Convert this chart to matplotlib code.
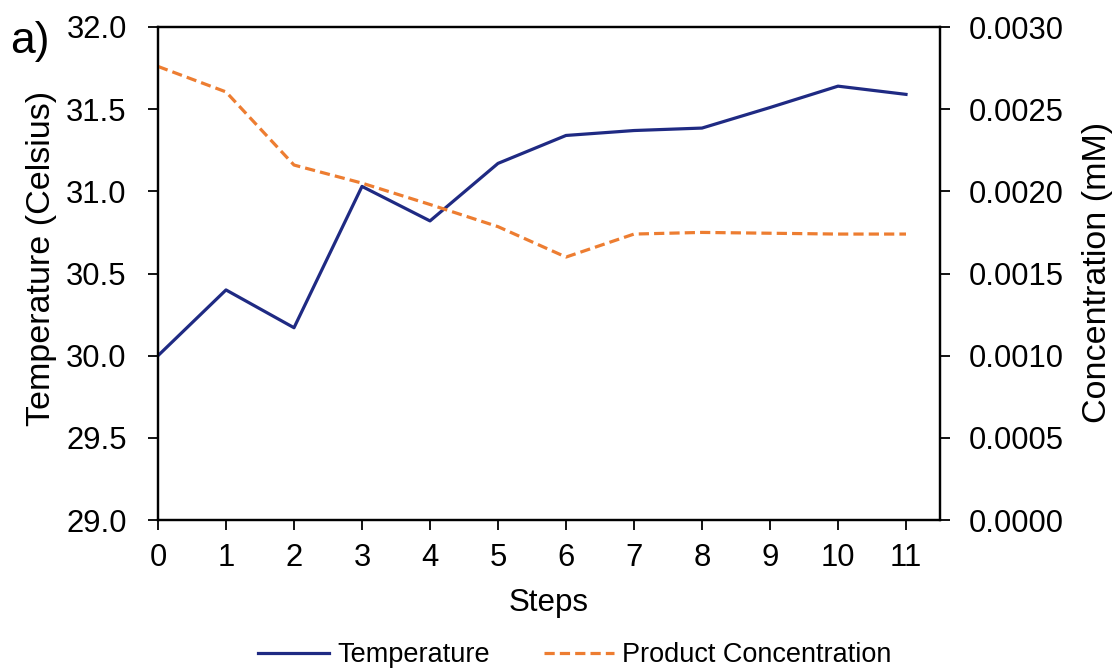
import matplotlib
matplotlib.use("Agg")
import matplotlib.pyplot as plt
from matplotlib.ticker import FormatStrFormatter

plt.rcParams['font.family'] = ['Liberation Sans', 'DejaVu Sans']

steps = [0, 1, 2, 3, 4, 5, 6, 7, 8, 9, 10, 11]
temperature = [30.00, 30.40, 30.17, 31.03, 30.82, 31.17, 31.34, 31.37, 31.385, 31.51, 31.64, 31.59]
concentration = [0.00276, 0.002605, 0.00216, 0.00205, 0.00192, 0.001785, 0.0016, 0.00174, 0.00175, 0.001745, 0.00174, 0.00174]
temp_ticks = [29.0, 29.5, 30.0, 30.5, 31.0, 31.5, 32.0]
conc_ticks = [0.0, 0.0005, 0.0010, 0.0015, 0.0020, 0.0025, 0.0030]

navy = '#1F2A83'
orange = '#ED7D31'

W, H = 1113, 668
fig = plt.figure(figsize=(W / 100, H / 100), dpi=100)
ax = fig.add_axes([158 / W, 1 - 520 / H, (940 - 158) / W, (520 - 27) / H])
ax2 = ax.twinx()

l1, = ax.plot(steps, temperature, color=navy, lw=2.3, label='Temperature', zorder=3)
l2, = ax2.plot(steps, concentration, color=orange, lw=2.3, ls=(0, (3.2, 1.6)),
               label='Product Concentration')

ax.set_xlim(0, 11.5)
ax.set_ylim(29.0, 32.0)
ax2.set_ylim(0.0, 0.0030)
ax.set_xticks(steps)
ax.set_yticks(temp_ticks)
ax2.set_yticks(conc_ticks)
ax.yaxis.set_major_formatter(FormatStrFormatter('%.1f'))
ax2.yaxis.set_major_formatter(FormatStrFormatter('%.4f'))

for a in (ax, ax2):
    for s in a.spines.values():
        s.set_linewidth(1.6)
        s.set_color('black')
    a.tick_params(axis='both', which='major', labelsize=22.3, length=7.5, width=1.3,
                  direction='out', colors='black')
ax.tick_params(axis='x', pad=9)
ax.tick_params(axis='y', pad=15)
ax2.tick_params(axis='y', pad=13)

ax.set_xlabel('Steps', fontsize=22.5)
ax.xaxis.set_label_coords((549 - 158) / (940 - 158), -(603 - 520) / (520 - 27))
ax.xaxis.label.set_va('center')
ax.set_ylabel('Temperature (Celsius)', fontsize=24.5)
ax.yaxis.set_label_coords(-(158 - 42) / (940 - 158), (520 - 258) / (520 - 27))
ax.yaxis.label.set_va('center')
ax2.set_ylabel('Concentration (mM)', fontsize=24.5)
ax2.yaxis.set_label_coords(1 + (1097 - 940) / (940 - 158), (520 - 272) / (520 - 27))
ax2.yaxis.label.set_va('center')

fig.text(10 / W, 1 - 42 / H, 'a)', fontsize=32, va='center', ha='left')

fig.legend(handles=[l1, l2], loc='center', bbox_to_anchor=(575 / W, 1 - 655 / H),
           ncol=2, frameon=False, fontsize=19.5, handlelength=2.6, handletextpad=0.3,
           columnspacing=2.0, borderpad=0)

fig.savefig('out.png', dpi=100)
